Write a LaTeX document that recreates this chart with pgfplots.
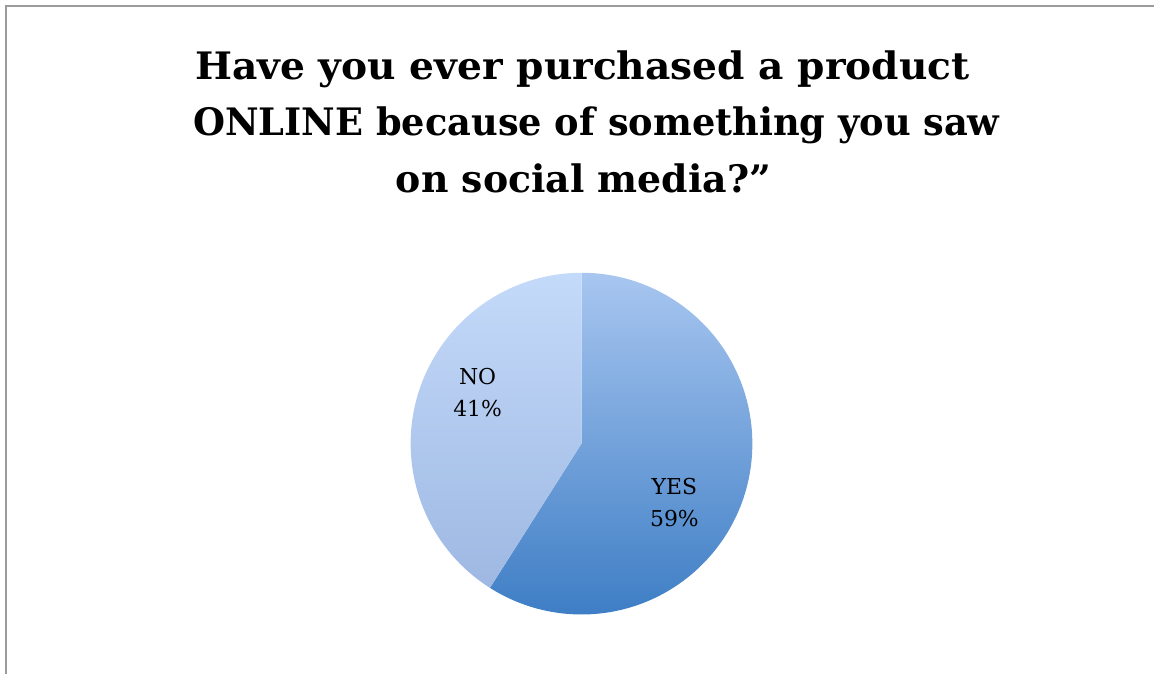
\documentclass[border=0pt]{standalone}
\usepackage{pgfplots}
\pgfplotsset{compat=1.18}
\usepackage{pgfplotstable}
\usepackage{fontspec}
\setmainfont{DejaVu Serif}

\pgfplotstableread{
label value
YES 59
NO 41
}\piedata

\definecolor{yestop}{RGB}{168,198,240}
\definecolor{yesbot}{RGB}{62,126,197}
\definecolor{notop}{RGB}{196,218,250}
\definecolor{nobot}{RGB}{158,184,226}
\definecolor{frame}{RGB}{155,155,155}

\begin{document}
\begin{tikzpicture}
\pgfplotstablegetelem{0}{value}\of\piedata \let\yesval\pgfplotsretval
\pgfplotstablegetelem{1}{value}\of\piedata \let\noval\pgfplotsretval
\pgfmathsetmacro\yesend{90-3.6*\yesval}
\pgfmathsetmacro\noend{\yesend-3.6*\noval}
\begin{axis}[
  x=1bp, y=1bp, y dir=reverse,
  xmin=0, xmax=1155, ymin=0, ymax=675,
  hide axis, clip=false,
]
\path (axis cs:0,0) rectangle (axis cs:1155,675);
\draw[frame, line width=2bp] (axis cs:6,675) -- (axis cs:6,6) -- (axis cs:1155,6);
% pie
\shade[top color=yestop, bottom color=yesbot]
  (axis cs:582,444) -- ++(90:171bp) arc[start angle=90, end angle=\yesend, radius=171bp] -- cycle;
\shade[top color=notop, bottom color=nobot]
  (axis cs:582,444) -- ++(\yesend:171bp) arc[start angle=\yesend, end angle=\noend, radius=171bp] -- cycle;
% labels
\node[anchor=base, font=\fontsize{22}{26}\selectfont, inner sep=0] at (axis cs:478,385) {NO};
\node[anchor=base, font=\fontsize{22}{26}\selectfont, inner sep=0] at (axis cs:478,417) {\noval\%};
\node[anchor=base, font=\fontsize{22}{26}\selectfont, inner sep=0] at (axis cs:675,495) {YES};
\node[anchor=base, font=\fontsize{22}{26}\selectfont, inner sep=0] at (axis cs:675,527) {\yesval\%};
% title
\node[anchor=base, font=\bfseries\fontsize{38}{46}\selectfont, inner sep=0, xscale=1.035] at (axis cs:583,80) {Have you ever purchased a product};
\node[anchor=base, font=\bfseries\fontsize{38}{46}\selectfont, inner sep=0, xscale=0.971] at (axis cs:597,136) {ONLINE because of something you saw};
\node[anchor=base, font=\bfseries\fontsize{38}{46}\selectfont, inner sep=0] at (axis cs:584,193) {on social media?”};
\end{axis}
\end{tikzpicture}
\end{document}
